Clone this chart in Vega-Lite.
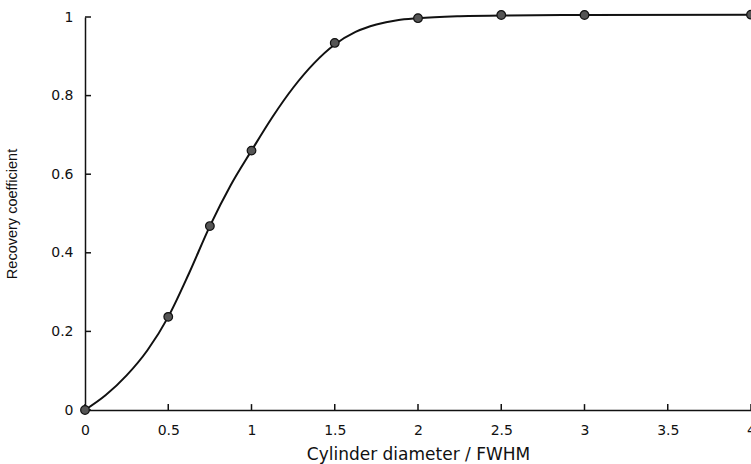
{
  "$schema": "https://vega.github.io/schema/vega-lite/v6.json",
  "width": 666,
  "height": 393,
  "autosize": "none",
  "padding": {"left": 85, "top": 17, "right": 0, "bottom": 54},
  "background": "white",
  "config": {
    "view": {"stroke": null},
    "axis": {
      "grid": false,
      "domainColor": "#111",
      "domainWidth": 1.5,
      "ticks": false,
      "labelFont": "DejaVu Sans",
      "titleFont": "DejaVu Sans",
      "labelColor": "#111",
      "titleColor": "#111",
      "labelFontSize": 14,
      "titleFontSize": 17,
      "titleFontWeight": "normal",
      "format": "~g"
    }
  },
  "datasets": {
    "curve": [
      {"x": 0, "y": 0},
      {"x": 0.125, "y": 0.038},
      {"x": 0.25, "y": 0.088},
      {"x": 0.375, "y": 0.152},
      {"x": 0.5, "y": 0.237},
      {"x": 0.625, "y": 0.348},
      {"x": 0.75, "y": 0.468},
      {"x": 0.875, "y": 0.572},
      {"x": 1, "y": 0.66},
      {"x": 1.125, "y": 0.745},
      {"x": 1.25, "y": 0.82},
      {"x": 1.375, "y": 0.882},
      {"x": 1.5, "y": 0.93},
      {"x": 1.625, "y": 0.962},
      {"x": 1.75, "y": 0.981},
      {"x": 1.875, "y": 0.992},
      {"x": 2, "y": 0.997},
      {"x": 2.25, "y": 1.002},
      {"x": 2.5, "y": 1.004},
      {"x": 3, "y": 1.005},
      {"x": 4, "y": 1.006}
    ],
    "points": [
      {"x": 0, "y": 0},
      {"x": 0.5, "y": 0.237},
      {"x": 0.75, "y": 0.468},
      {"x": 1, "y": 0.66},
      {"x": 1.5, "y": 0.934},
      {"x": 2, "y": 0.997},
      {"x": 2.5, "y": 1.005},
      {"x": 3, "y": 1.005},
      {"x": 4, "y": 1.006}
    ],
    "xticks": [
      {"v": 0}, {"v": 0.5}, {"v": 1}, {"v": 1.5}, {"v": 2}, {"v": 2.5}, {"v": 3}, {"v": 3.5}, {"v": 4}
    ],
    "yticks": [
      {"v": 0}, {"v": 0.2}, {"v": 0.4}, {"v": 0.6}, {"v": 0.8}, {"v": 1}
    ]
  },
  "layer": [
    {
      "data": {"name": "curve"},
      "mark": {"type": "line", "interpolate": "monotone", "color": "#111", "strokeWidth": 2, "clip": false},
      "encoding": {
        "x": {
          "field": "x", "type": "quantitative",
          "scale": {"domain": [0, 4], "nice": false},
          "axis": {
            "title": "Cylinder diameter / FWHM",
            "values": [0, 0.5, 1, 1.5, 2, 2.5, 3, 3.5, 4],
            "labelPadding": 13,
            "titlePadding": 9,
            "labelFlush": false
          }
        },
        "y": {
          "field": "y", "type": "quantitative",
          "scale": {"domain": [0, 1], "nice": false},
          "axis": {
            "title": "Recovery coefficient",
            "titleFont": "Liberation Sans",
            "titleFontSize": 14.5,
            "values": [0, 0.2, 0.4, 0.6, 0.8, 1],
            "labelPadding": 12,
            "titlePadding": 31
          }
        }
      }
    },
    {
      "data": {"name": "xticks"},
      "mark": {"type": "rule", "color": "#111", "strokeWidth": 1.5, "clip": false},
      "encoding": {
        "x": {"field": "v", "type": "quantitative"},
        "y": {"datum": 0},
        "y2": {"datum": 0.015}
      }
    },
    {
      "data": {"name": "yticks"},
      "mark": {"type": "rule", "color": "#111", "strokeWidth": 1.5, "clip": false},
      "encoding": {
        "y": {"field": "v", "type": "quantitative"},
        "x": {"datum": 0},
        "x2": {"datum": 0.036}
      }
    },
    {
      "data": {"name": "points"},
      "mark": {"type": "point", "shape": "circle", "filled": true, "size": 75, "color": "#555", "stroke": "#111", "strokeWidth": 1.2, "opacity": 1, "clip": false},
      "encoding": {
        "x": {"field": "x", "type": "quantitative"},
        "y": {"field": "y", "type": "quantitative"}
      }
    }
  ]
}
